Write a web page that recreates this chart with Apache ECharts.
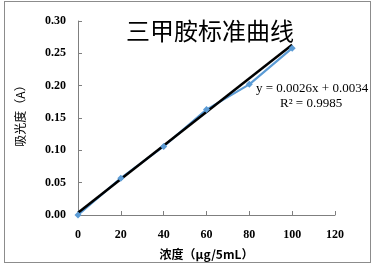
<!DOCTYPE html>
<html lang="zh">
<head>
  <meta charset="UTF-8">
  <title>三甲胺标准曲线</title>
  <script src="https://cdn.jsdelivr.net/npm/echarts@6/dist/echarts.min.js"></script>
  <style>
    html, body { margin: 0; padding: 0; background: #fff; }
    #frame { position: absolute; left: 4px; top: 1px; width: 365px; height: 260px; border: 1px solid #8c8c8c; }
    #main { position: absolute; left: 0; top: 0; width: 373px; height: 267px; }
  </style>
</head>
<body>
  <div id="frame"></div>
  <div id="main"></div>
  <script type="text/javascript">
    // 标准曲线数据
    var concentration = [0, 20, 40, 60, 80, 100];
    var absorbance = [0.000, 0.057, 0.106, 0.163, 0.202, 0.258];
    // 线性拟合
    var slope = 0.0026;
    var intercept = 0.0034;
    var fitX = [0, 100];
    var xTicks = [0, 20, 40, 60, 80, 100, 120];

    var points = concentration.map(function (x, i) { return [x, absorbance[i]]; });
    var fitLine = fitX.map(function (x) { return [x, slope * x + intercept]; });

    var myChart = echarts.init(document.getElementById('main'));
    var numFont = { fontFamily: 'Liberation Serif', fontWeight: 'bold', fontSize: 12, color: '#000' };

    var option = {
      animation: false,
      grid: { left: 78, right: 38, top: 21, bottom: 52, containLabel: false },
      title: {
        text: '三甲胺标准曲线',
        left: 205, top: 14, textAlign: 'center',
        textStyle: { fontFamily: 'Noto Sans CJK SC', fontWeight: 'normal', fontSize: 24, color: '#000' }
      },
      graphic: [
        { type: 'text', left: 256, top: 82, style: { text: 'y = 0.0026x + 0.0034', font: '13px "Liberation Serif"', fill: '#000' } },
        { type: 'text', left: 280, top: 97, style: { text: 'R² = 0.9985', font: '13px "Liberation Serif"', fill: '#000' } }
      ],
      xAxis: {
        type: 'value', min: 0, max: 120, interval: 20,
        name: '浓度（μg/5mL）', nameLocation: 'middle', nameGap: 33,
        nameTextStyle: { fontFamily: 'Noto Sans CJK SC', fontWeight: 'bold', fontSize: 12, color: '#000' },
        axisLine: { lineStyle: { color: '#7f7f7f', width: 1 } },
        axisTick: { inside: true, length: 4, lineStyle: { color: '#7f7f7f' } },
        axisLabel: Object.assign({ margin: 14 }, numFont),
        splitLine: { show: false }
      },
      yAxis: {
        type: 'value', min: 0, max: 0.30, interval: 0.05,
        name: '吸光度（A）', nameLocation: 'middle', nameGap: 52, nameRotate: 90,
        nameTextStyle: { fontFamily: 'Noto Sans CJK SC', fontSize: 12, color: '#000', padding: [0, 0, 0, 10] },
        axisLine: { show: true, lineStyle: { color: '#7f7f7f', width: 1 } },
        axisTick: { show: true, inside: true, length: 4, lineStyle: { color: '#7f7f7f' } },
        axisLabel: Object.assign({ margin: 12, formatter: function (v) { return v.toFixed(2); } }, numFont),
        splitLine: { show: false }
      },
      series: [
        {
          type: 'line', data: points, symbol: 'diamond', symbolSize: 7,
          lineStyle: { color: '#5b9bd5', width: 2.2 },
          itemStyle: { color: '#5b9bd5' }
        },
        {
          type: 'line', data: fitLine, symbol: 'none',
          lineStyle: { color: '#000', width: 2.5 }
        }
      ]
    };
    myChart.setOption(option);
  </script>
</body>
</html>
